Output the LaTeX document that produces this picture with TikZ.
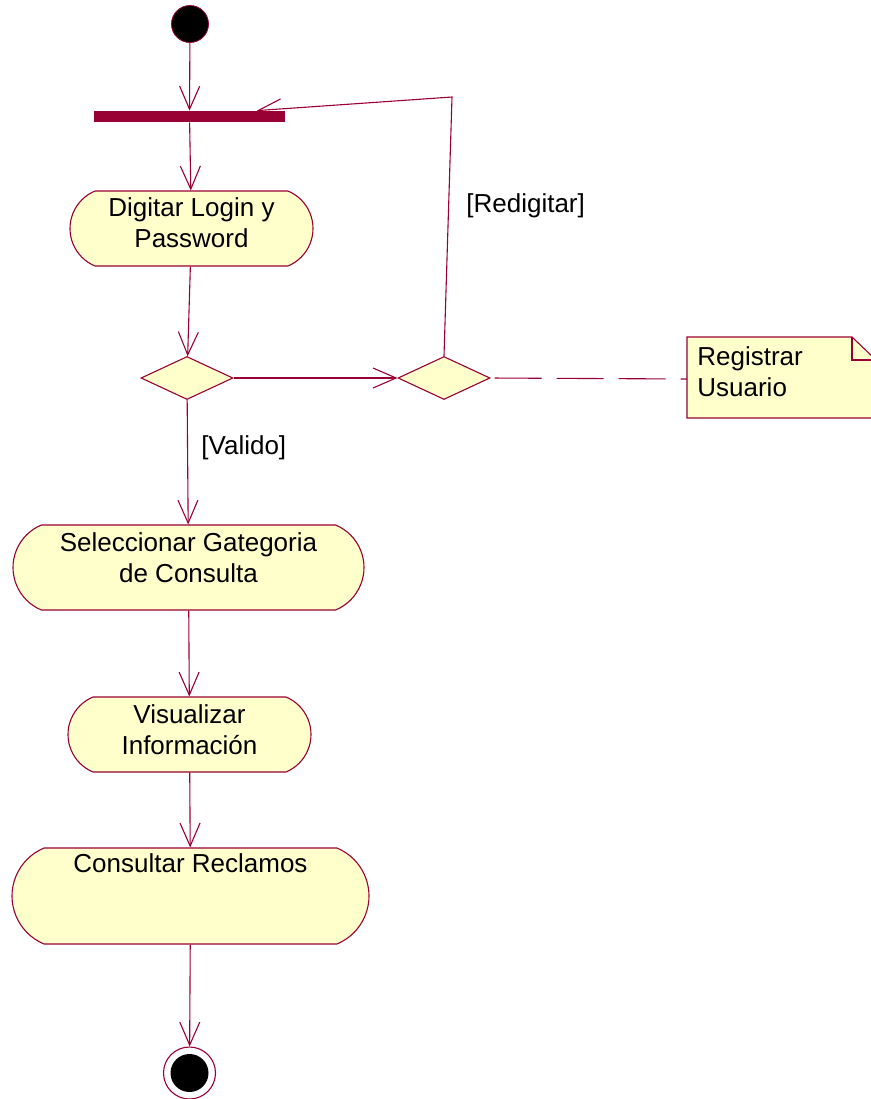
\documentclass[tikz,border=0pt]{standalone}
\usepackage{fontspec}
\setmainfont{Liberation Sans}
\usetikzlibrary{arrows.meta,positioning,shapes.geometric,shapes.misc}
\definecolor{rosered}{RGB}{153,0,51}
\definecolor{roseyellow}{RGB}{255,255,204}
\tikzset{
	act/.style={draw=rosered, fill=roseyellow, line width=0.55pt, rounded rectangle, rounded rectangle arc length=135, inner sep=0pt},
	acttext/.style={font=\fontsize{13pt}{15.5pt}\selectfont, align=center, inner sep=0pt},
	dec/.style={draw=rosered, fill=roseyellow, line width=0.55pt, diamond, minimum width=46pt, minimum height=21.5pt, inner sep=0pt},
	flow/.style={draw=rosered, line width=0.55pt, -{Straight Barb[length=11.5pt, width=10pt, line width=0.55pt]}},
	guard/.style={font=\fontsize{13pt}{15.5pt}\selectfont, inner sep=0pt, anchor=west},
	notelink/.style={draw=rosered, line width=0.55pt, dash pattern=on 23.5pt off 7.5pt}
}
\begin{document}
\begin{tikzpicture}[x=0.5pt, y=-0.5pt]
		%%%%% START %%%%%
		\useasboundingbox (0, 0) rectangle (871, 1099);
		
		\node[circle, draw=rosered, fill=black, minimum size=18.5pt, inner sep=0pt] (ini) at (190, 24) {};
		\node[rectangle, fill=rosered, minimum width=95.5pt, minimum height=5.5pt, inner sep=0pt] (barra) at (189.5, 116.5) {};
		
		\node[act, minimum width=121.5pt, minimum height=37.5pt] (dig) at (191.5, 228.5) {};
		\node[acttext, below=3.5pt of dig.north] (digt) {Digitar Login y\\Password};
		
		\node[dec] (dec1) at (187, 378) {};
		\node[dec] (dec2) at (444, 378) {};
		
		% nota
		\draw[draw=rosered, fill=roseyellow, line width=0.55pt] (687, 337) -- (852, 337) -- (876, 360) -- (876, 418) -- (687, 418) -- cycle;
		\draw[draw=rosered, line width=0.55pt] (852, 337) -- (852, 360) -- (876, 360);
		\node[acttext, align=left, anchor=north west] (nota) at (697, 346.5) {Registrar\\Usuario};
		\coordinate (notaw) at (687, 379);
		
		\node[act, minimum width=175.5pt, minimum height=42.5pt] (sel) at (188.5, 567.5) {};
		\node[acttext, below=4pt of sel.north] (selt) {Seleccionar Gategoria\\de Consulta};
		
		\node[act, minimum width=121.5pt, minimum height=37.5pt] (vis) at (189.5, 734.5) {};
		\node[acttext, below=4pt of vis.north] (vist) {Visualizar\\Información};
		
		\node[act, minimum width=178.5pt, minimum height=48pt] (con) at (190.5, 896) {};
		\node[acttext, below=2.7pt of con.north] (cont) {Consultar Reclamos};
		
		\node[circle, draw=rosered, fill=white, line width=0.55pt, minimum size=26pt, inner sep=0pt] (fin) at (189.5, 1073) {};
		\node[circle, fill=black, minimum size=19pt, inner sep=0pt] (finin) at (fin) {};
		
		% flujos
		\draw[flow] (ini) -- (barra);
		\draw[flow] (barra) -- (dig);
		\draw[flow] (dig) -- (dec1);
		\draw[flow] (dec1) -- (dec2);
		\draw[flow] (dec1) -- (sel);
		\draw[flow] (sel) -- (vis);
		\draw[flow] (vis) -- (con);
		\draw[flow] (con) -- (fin);
		
		\coordinate (vuelta) at (452, 97);
		\draw[flow] (dec2.north) -- (vuelta) -- (barra.5);
		\draw[notelink, shorten <=2pt] (dec2.east) -- (notaw);
		
		\node[guard] (valido) at (201, 448) {[Valido]};
		\node[guard] (redig) at (466, 206) {[Redigitar]};
		
		%%%%% END %%%%%
	\end{tikzpicture}
\end{document}
